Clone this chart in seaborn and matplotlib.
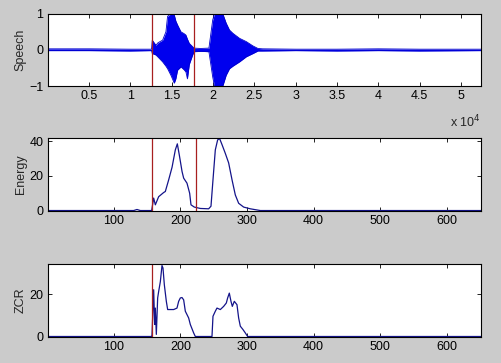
import numpy as np
import pandas as pd
import seaborn as sns
import matplotlib
matplotlib.use("Agg")
import matplotlib.pyplot as plt
from matplotlib.ticker import FuncFormatter

# speech waveform envelope (sample index, upper, lower)
speech_x = [0, 5000, 10000, 12560, 12650, 13090, 13350, 13900, 14300, 14500,
            14900, 15310, 15500, 15710, 16120, 16500, 16720, 16900, 17130, 17530,
            17700, 18500, 19500, 19960, 20170, 20290, 21180, 21590, 21990, 22400,
            23210, 24020, 24830, 25430, 26000, 30000, 35000, 40000, 45000, 52400]
speech_upper = [0.03, 0.03, 0.02, 0.02, 0.27, 0.13, 0.20, 0.27, 0.50, 0.93,
                1.00, 0.97, 0.80, 0.69, 0.50, 0.45, 0.41, 0.30, 0.18, 0.09,
                0.05, 0.04, 0.05, 0.83, 1.00, 1.00, 1.00, 0.74, 0.55, 0.46,
                0.32, 0.23, 0.11, 0.04, 0.03, 0.02, 0.02, 0.03, 0.02, 0.02]
speech_lower = [-0.02, -0.02, -0.03, -0.02, -0.10, -0.14, -0.20, -0.33, -0.45, -0.52,
                -0.70, -0.92, -0.80, -0.56, -0.47, -0.55, -0.61, -0.80, -0.40, -0.14,
                -0.05, -0.04, -0.05, -0.75, -1.00, -1.00, -1.00, -0.70, -0.52, -0.45,
                -0.33, -0.19, -0.10, -0.03, -0.03, -0.02, -0.03, -0.02, -0.03, -0.02]
speech_marks = [12650, 17700]

# short-time energy per frame
energy_frame = [1, 130, 135, 140, 157, 160, 162.5, 167.5, 175, 177.5,
                182.5, 187.6, 192.5, 195.5, 198.5, 202.6, 205, 210, 214, 216,
                221, 230, 242.5, 246, 249, 252.5, 256, 259, 262.6, 267.5,
                272.5, 277.6, 282.5, 287.5, 295, 305, 320, 651]
energy_value = [0, 0, 0.6, 0, 0, 7.2, 3.3, 8, 10.4, 11,
                17.7, 25, 35, 38.5, 32, 22.5, 18.7, 15.8, 10, 3.3,
                2, 1.2, 1, 2.5, 17.7, 35, 40.8, 41.5, 38, 33,
                27.5, 17.7, 9, 4.2, 2, 1, 0, 0]
energy_marks = [157.6, 223]

# zero crossing rate per frame
zcr_frame = [1, 157, 157.5, 160, 161.5, 162.5, 164, 166, 167.5, 170, 172.5,
             174, 176, 179, 181, 185, 190, 195, 197.5, 200, 202.5,
             205, 207.5, 212.5, 215, 220, 222.5, 247.5, 249, 252.5, 255,
             260, 265, 269, 271, 273.5, 276, 278, 281, 285, 287.5,
             290, 294, 297.5, 301, 651]
zcr_value = [0, 0, 0.7, 22.2, 5.7, 13.5, 1, 18.3, 21.4, 26, 33.7,
             32.5, 24.6, 16.7, 12.8, 12.8, 12.8, 13.5, 16.7, 18.3, 18.5,
             17.4, 12, 8.8, 5.7, 1.7, 0, 0, 9.6, 12, 13.5,
             12.8, 14.3, 15.9, 18.3, 20.6, 16.7, 14.3, 16.7, 15.1, 8.8,
             4.9, 3.3, 1.7, 0, 0]
zcr_marks = [157.6]

sns.set_style("ticks", {"xtick.direction": "in", "ytick.direction": "in"})
plt.rcParams['font.family'] = ['Liberation Sans', 'DejaVu Sans']
plt.rcParams['font.size'] = 9

bg = '#cbcbcb'
line_col = '#14148a'
red = '#a82020'

fig = plt.figure(figsize=(5.02, 3.63), dpi=100, facecolor=bg)
ax1 = fig.add_axes([0.095, 0.763, 0.863, 0.199])
ax2 = fig.add_axes([0.095, 0.420, 0.863, 0.199])
ax3 = fig.add_axes([0.095, 0.073, 0.863, 0.199])


def style_axis(ax, ylabel):
    ax.set_facecolor('white')
    for s in ax.spines.values():
        s.set_visible(True)
        s.set_color('black')
        s.set_linewidth(0.8)
    ax.tick_params(direction='in', length=3, width=0.6, top=True, right=True,
                   labelsize=9, pad=3, colors='black')
    ax.set_ylabel(ylabel, fontsize=9, labelpad=2)
    ax.set_xlabel('')


# speech
sp = pd.DataFrame({'x': speech_x, 'up': speech_upper, 'lo': speech_lower})
ax1.fill_between(sp['x'], sp['lo'], sp['up'], color='#0000ee', lw=0)
sns.lineplot(data=sp, x='x', y='up', ax=ax1, color='#0000cc', lw=0.6)
sns.lineplot(data=sp, x='x', y='lo', ax=ax1, color='#0000cc', lw=0.6)
for m in speech_marks:
    ax1.axvline(m, color=red, lw=0.9)
ax1.set_xlim(0, 52400)
ax1.set_ylim(-1, 1)
ax1.set_yticks([-1, 0, 1])
ax1.set_xticks(np.arange(5000, 50001, 5000))
ax1.xaxis.set_major_formatter(FuncFormatter(lambda v, p: f'{v / 1e4:g}'))
style_axis(ax1, 'Speech')
ax1.text(1.0, -0.5, r'x 10$^{4}$', transform=ax1.transAxes, ha='right',
         va='center', fontsize=9)

# energy
en = pd.DataFrame({'frame': energy_frame, 'energy': energy_value})
sns.lineplot(data=en, x='frame', y='energy', ax=ax2, color=line_col, lw=0.9)
for m in energy_marks:
    ax2.axvline(m, color=red, lw=0.9)
ax2.set_xlim(1, 651)
ax2.set_ylim(0, 41.7)
ax2.set_yticks([0, 20, 40])
ax2.set_xticks([100, 200, 300, 400, 500, 600])
style_axis(ax2, 'Energy')

# zcr
zc = pd.DataFrame({'frame': zcr_frame, 'zcr': zcr_value})
sns.lineplot(data=zc, x='frame', y='zcr', ax=ax3, color=line_col, lw=0.9)
for m in zcr_marks:
    ax3.axvline(m, color=red, lw=0.9)
ax3.set_xlim(1, 651)
ax3.set_ylim(0, 34.3)
ax3.set_yticks([0, 20])
ax3.set_xticks([100, 200, 300, 400, 500, 600])
style_axis(ax3, 'ZCR')

fig.savefig('out.png', dpi=100, facecolor=bg)
